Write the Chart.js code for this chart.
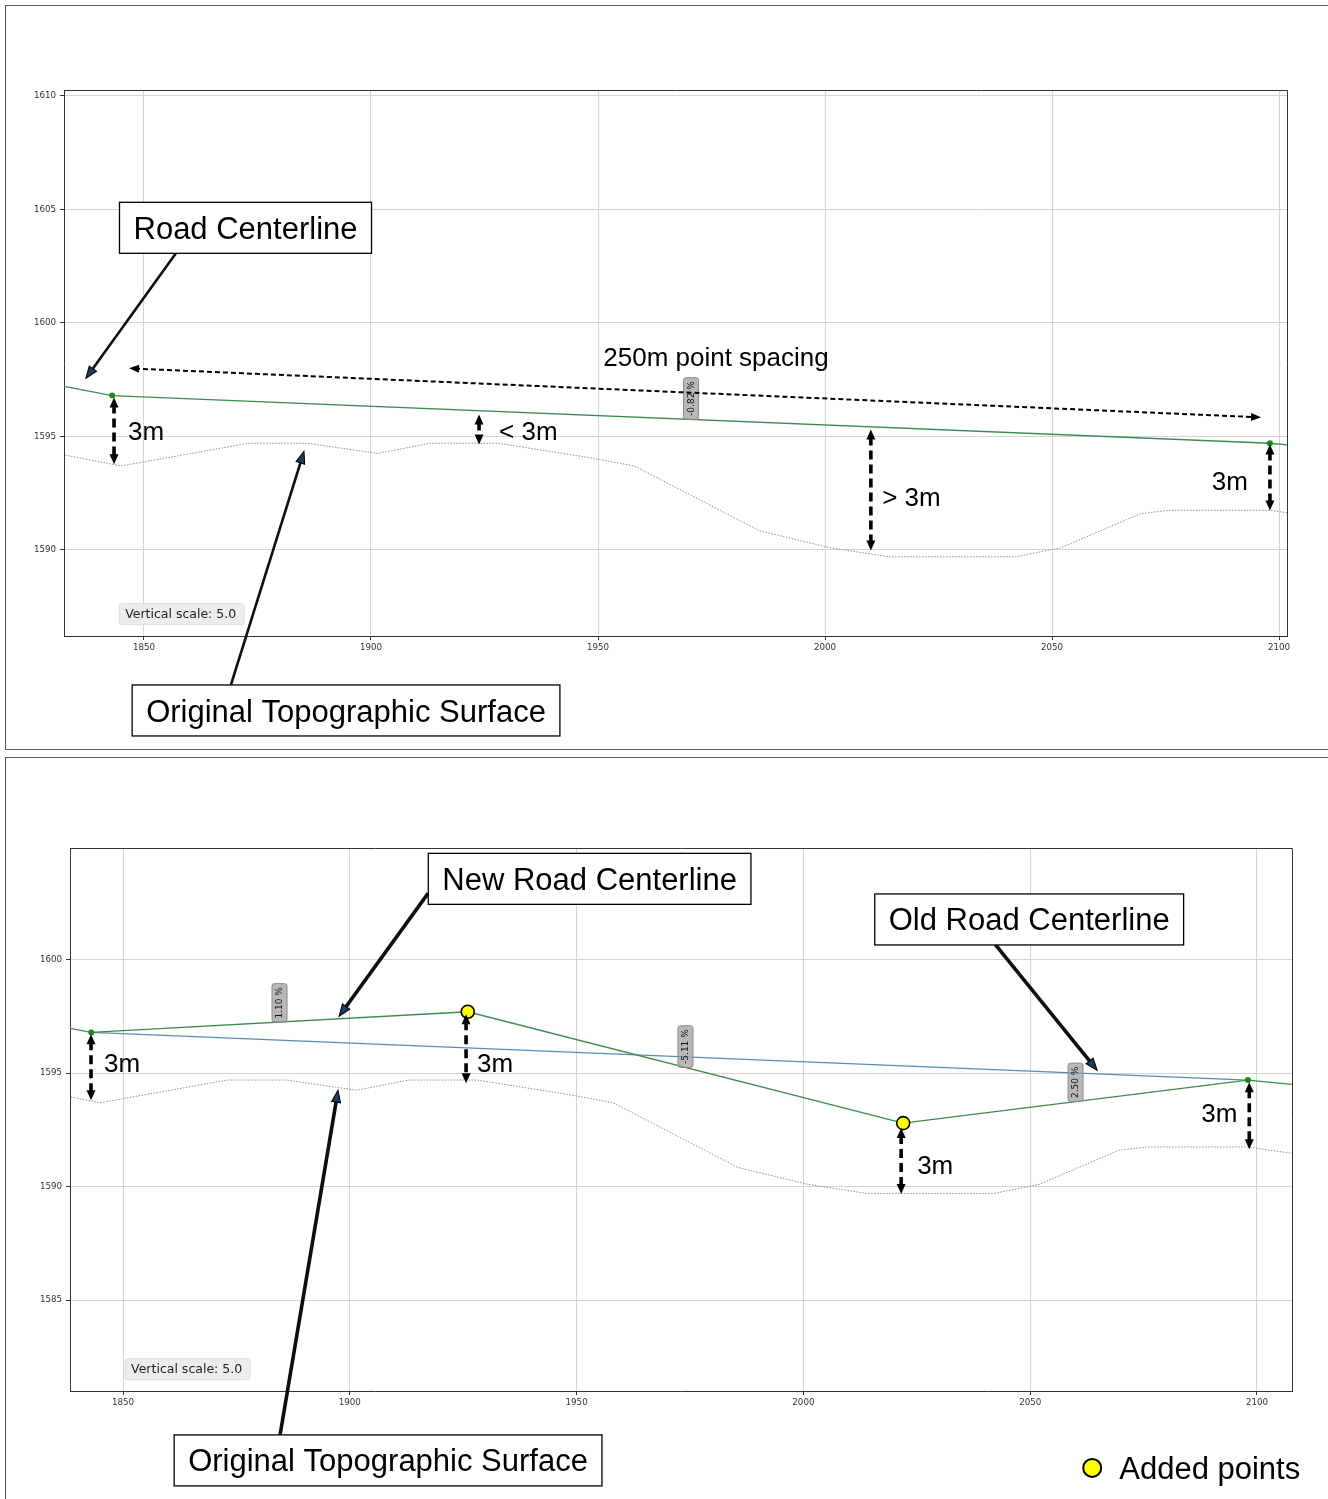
<!DOCTYPE html>
<html>
<head>
<meta charset="utf-8">
<title>Road profile – vertical alignment</title>
<script src="https://cdn.jsdelivr.net/npm/chart.js@4.4.1/dist/chart.umd.min.js"></script>
<style>
  html, body { margin: 0; padding: 0; background: #fff; }
  body { width: 1328px; height: 1499px; position: relative; overflow: hidden; }
  .frame { position: absolute; border: 1px solid #5a5a5a; box-sizing: border-box; }
  #frameTop { left: 5px; top: 5px; width: 1340px; height: 745px; }
  #frameBottom { left: 5px; top: 757px; width: 1340px; height: 760px; }
  canvas { position: absolute; }
  #cTop { left: 5px; top: 5px; }
  #cBottom { left: 5px; top: 757px; }
</style>
</head>
<body>
<div class="frame" id="frameTop"></div>
<div class="frame" id="frameBottom"></div>
<canvas id="cTop" width="1323" height="744" style="width:1323px;height:744px"></canvas>
<canvas id="cBottom" width="1323" height="742" style="width:1323px;height:742px"></canvas>
<script>
// ---- profile data (chainage in m, elevation in m) ----
const xTicks = [1850, 1900, 1950, 2000, 2050, 2100];
const yTicksTop = [1590, 1595, 1600, 1605, 1610];
const yTicksBottom = [1585, 1590, 1595, 1600];

// original ground surface
const topoX = [1820, 1832, 1845, 1873, 1886, 1901.5, 1913, 1928, 1948, 1958, 1972.5, 1985.5, 2001, 2014, 2042, 2052, 2069.5, 2076, 2098, 2110];
const topoY = [1594.6, 1594.2, 1593.7, 1594.7, 1594.7, 1594.25, 1594.7, 1594.7, 1594.07, 1593.7, 1592.2, 1590.85, 1590.1, 1589.7, 1589.7, 1590.1, 1591.6, 1591.75, 1591.75, 1591.4];

// road centerline with 250 m station spacing
const roadX = [1820, 1843, 2098, 2120];
const roadY = [1597.67, 1596.8, 1594.70, 1594.26];

// stations of the original design and the two inserted vertices
const stationX = [1843, 2098];
const addedX = [1926, 2022];

// revised centerline
const newRoadX = [1820, 1843, 1926, 2022, 2098, 2120];
const newRoadY = [1597.67, 1596.8, 1597.71, 1592.80, 1594.70, 1594.26];

// old centerline between the stations
const oldRoadX = [1843, 2098];
const oldRoadY = [1596.8, 1594.70];

const verticalScale = 5.0;

const pts = (xs, ys) => xs.map((x, i) => ({ x: x, y: ys[i] }));

// ---- annotation layout (data coordinates) ----
const topNotes = {
  boxes: [
    { text: 'Road Centerline', x: 1872.36, y: 1604.19 },
    { text: 'Original Topographic Surface', x: 1894.5, y: 1582.93 }
  ],
  pointers: [
    { x1: 1857.0, y1: 1603.06, x2: 1837.2, y2: 1597.56, w: 2.6 },
    { x1: 1869.16, y1: 1584.07, x2: 1885.24, y2: 1594.34, w: 2.6 }
  ],
  spans: [
    { x1: 1846.7, y1: 1598.0, x2: 2096.04, y2: 1595.84, text: '250m point spacing', tx: 1975.99, ty: 1598.52 }
  ],
  gaps: [
    { x: 1843.4, y1: 1596.72, y2: 1593.78, text: '3m', tx: 1846.5, ty: 1595.26 },
    { x: 1923.8, y1: 1595.97, y2: 1594.65, text: '< 3m', tx: 1928.2, ty: 1595.26 },
    { x: 2010.1, y1: 1595.31, y2: 1589.98, text: '> 3m', tx: 2012.6, ty: 1592.36 },
    { x: 2098.0, y1: 1594.65, y2: 1591.74, text: '3m', tx: 2085.2, ty: 1593.06 }
  ],
  legend: null
};

const bottomNotes = {
  boxes: [
    { text: 'New Road Centerline', x: 1952.87, y: 1603.57 },
    { text: 'Old Road Centerline', x: 2049.78, y: 1601.78 },
    { text: 'Original Topographic Surface', x: 1908.43, y: 1577.93 }
  ],
  pointers: [
    { x1: 1917.25, y1: 1602.93, x2: 1897.63, y2: 1597.51, w: 3.6 },
    { x1: 2042.28, y1: 1600.68, x2: 2064.77, y2: 1595.13, w: 3.6 },
    { x1: 1884.62, y1: 1579.05, x2: 1897.41, y2: 1594.25, w: 3.6 }
  ],
  spans: [],
  gaps: [
    { x: 1842.94, y1: 1596.72, y2: 1593.81, text: '3m', tx: 1845.8, ty: 1595.44 },
    { x: 1925.63, y1: 1597.6, y2: 1594.56, text: '3m', tx: 1928.06, ty: 1595.48 },
    { x: 2021.55, y1: 1592.58, y2: 1589.67, text: '3m', tx: 2025.08, ty: 1590.95 },
    { x: 2098.3, y1: 1594.6, y2: 1591.65, text: '3m', tx: 2087.7, ty: 1593.24 }
  ],
  legend: { text: 'Added points', x: 2063.67, y: 1577.6, tx: 2069.63 }
};

// ---- drawing helpers ----
const BOX_FONT = '31px "Liberation Sans", Arial, sans-serif';
const GAP_FONT = '26px "Liberation Sans", Arial, sans-serif';
const TICK_FONT_FAMILY = '"DejaVu Sans", sans-serif';

function arrowHead(ctx, x1, y1, x2, y2, len, wid, fill, stroke) {
  const a = Math.atan2(y2 - y1, x2 - x1);
  ctx.save();
  ctx.translate(x2, y2);
  ctx.rotate(a);
  ctx.setLineDash([]);
  ctx.beginPath();
  ctx.moveTo(0, 0);
  ctx.lineTo(-len, wid / 2);
  ctx.lineTo(-len, -wid / 2);
  ctx.closePath();
  ctx.fillStyle = fill;
  ctx.fill();
  if (stroke) { ctx.lineWidth = 1; ctx.strokeStyle = stroke; ctx.stroke(); }
  ctx.restore();
}

function shaft(ctx, x1, y1, x2, y2, cut1, cut2, width, dash, color) {
  const d = Math.hypot(x2 - x1, y2 - y1);
  const ux = (x2 - x1) / d, uy = (y2 - y1) / d;
  ctx.save();
  ctx.strokeStyle = color;
  ctx.lineWidth = width;
  ctx.setLineDash(dash);
  ctx.beginPath();
  ctx.moveTo(x1 + ux * cut1, y1 + uy * cut1);
  ctx.lineTo(x2 - ux * cut2, y2 - uy * cut2);
  ctx.stroke();
  ctx.restore();
}

function textBox(ctx, text, cx, cy) {
  ctx.save();
  ctx.font = BOX_FONT;
  const w = ctx.measureText(text).width + 28;
  const h = 51;
  ctx.fillStyle = '#fff';
  ctx.fillRect(cx - w / 2, cy - h / 2, w, h);
  ctx.strokeStyle = '#000';
  ctx.lineWidth = 1.3;
  ctx.strokeRect(cx - w / 2, cy - h / 2, w, h);
  ctx.fillStyle = '#000';
  ctx.textAlign = 'center';
  ctx.textBaseline = 'middle';
  ctx.fillText(text, cx, cy + 2.5);
  ctx.restore();
}

function roundRect(ctx, x, y, w, h, r) {
  ctx.beginPath();
  ctx.moveTo(x + r, y);
  ctx.lineTo(x + w - r, y);
  ctx.quadraticCurveTo(x + w, y, x + w, y + r);
  ctx.lineTo(x + w, y + h - r);
  ctx.quadraticCurveTo(x + w, y + h, x + w - r, y + h);
  ctx.lineTo(x + r, y + h);
  ctx.quadraticCurveTo(x, y + h, x, y + h - r);
  ctx.lineTo(x, y + r);
  ctx.quadraticCurveTo(x, y, x + r, y);
  ctx.closePath();
}

// grade labels, rotated, set on the midpoint of each segment
function gradeLabels(ctx, chart, xs, ys) {
  const sx = chart.scales.x, sy = chart.scales.y;
  for (let i = 0; i < xs.length - 1; i++) {
    if (xs[i] < stationX[0] || xs[i + 1] > stationX[stationX.length - 1]) continue;
    const g = (ys[i + 1] - ys[i]) / (xs[i + 1] - xs[i]) * 100;
    const label = g.toFixed(2) + ' %';
    const mx = (xs[i] + xs[i + 1]) / 2, my = (ys[i] + ys[i + 1]) / 2;
    const px = sx.getPixelForValue(mx), py = sy.getPixelForValue(my);
    ctx.save();
    ctx.translate(px, py);
    ctx.rotate(-Math.PI / 2);
    ctx.font = '9px ' + TICK_FONT_FAMILY;
    const tw = ctx.measureText(label).width;
    roundRect(ctx, 0, -7.5, tw + 7, 15, 2.5);
    ctx.fillStyle = 'rgba(160,160,160,0.75)';
    ctx.fill();
    ctx.strokeStyle = '#8a8a8a';
    ctx.lineWidth = 1;
    ctx.stroke();
    ctx.fillStyle = '#111';
    ctx.textBaseline = 'middle';
    ctx.textAlign = 'left';
    ctx.fillText(label, 3.5, 0.5);
    ctx.restore();
  }
}

function makeOverlay(notes, gradeXs, gradeYs) {
  return {
    id: 'profileOverlay',
    afterDraw(chart) {
      const ctx = chart.ctx;
      const a = chart.chartArea;
      const sx = chart.scales.x, sy = chart.scales.y;
      const X = v => sx.getPixelForValue(v), Y = v => sy.getPixelForValue(v);

      // top and right spines
      ctx.save();
      ctx.strokeStyle = '#333';
      ctx.lineWidth = 1;
      ctx.beginPath();
      ctx.moveTo(a.left, a.top + 0.5);
      ctx.lineTo(a.right + 0.5, a.top + 0.5);
      ctx.lineTo(a.right + 0.5, a.bottom);
      ctx.stroke();
      ctx.restore();

      gradeLabels(ctx, chart, gradeXs, gradeYs);

      // vertical exaggeration note
      ctx.save();
      ctx.font = '12.5px ' + TICK_FONT_FAMILY;
      const vs = 'Vertical scale: ' + verticalScale.toFixed(1);
      const tw = ctx.measureText(vs).width;
      const tx = a.left + 0.05 * (a.right - a.left);
      const ty = a.bottom - 0.04 * (a.bottom - a.top);
      roundRect(ctx, tx - 6, ty - 10.5, tw + 14, 21, 3);
      ctx.fillStyle = '#ededed';
      ctx.fill();
      ctx.strokeStyle = '#dddddd';
      ctx.lineWidth = 1;
      ctx.stroke();
      ctx.fillStyle = '#222';
      ctx.textBaseline = 'middle';
      ctx.fillText(vs, tx, ty + 0.5);
      ctx.restore();

      // dashed span arrows with label
      notes.spans.forEach(s => {
        const x1 = X(s.x1), y1 = Y(s.y1), x2 = X(s.x2), y2 = Y(s.y2);
        shaft(ctx, x1, y1, x2, y2, 6, 6, 2, [5, 3], '#000');
        arrowHead(ctx, x2, y2, x1, y1, 10, 8, '#000');
        arrowHead(ctx, x1, y1, x2, y2, 10, 8, '#000');
        ctx.save();
        ctx.font = GAP_FONT;
        ctx.fillStyle = '#000';
        ctx.textAlign = 'center';
        ctx.textBaseline = 'middle';
        ctx.fillText(s.text, X(s.tx), Y(s.ty) + 2);
        ctx.restore();
      });

      // clearance arrows between centerline and ground
      notes.gaps.forEach(g => {
        const x = X(g.x), y1 = Y(g.y1), y2 = Y(g.y2);
        shaft(ctx, x, y1, x, y2, 7, 7, 3.6, [9, 5], '#000');
        arrowHead(ctx, x, y2, x, y1, 10, 9, '#000');
        arrowHead(ctx, x, y1, x, y2, 10, 9, '#000');
        ctx.save();
        ctx.font = GAP_FONT;
        ctx.fillStyle = '#000';
        ctx.textAlign = 'left';
        ctx.textBaseline = 'middle';
        ctx.fillText(g.text, X(g.tx), Y(g.ty) + 2);
        ctx.restore();
      });

      // callout pointers and boxes
      notes.pointers.forEach(p => {
        const x1 = X(p.x1), y1 = Y(p.y1), x2 = X(p.x2), y2 = Y(p.y2);
        shaft(ctx, x1, y1, x2, y2, 0, 9, p.w, [], '#0a0f14');
        arrowHead(ctx, x1, y1, x2, y2, 12, 9, '#1f3b5b', '#000');
      });
      notes.boxes.forEach(b => textBox(ctx, b.text, X(b.x), Y(b.y)));

      if (notes.legend) {
        const L = notes.legend;
        ctx.save();
        ctx.beginPath();
        ctx.arc(X(L.x), Y(L.y), 9, 0, Math.PI * 2);
        ctx.fillStyle = '#ffff00';
        ctx.fill();
        ctx.lineWidth = 2;
        ctx.strokeStyle = '#000';
        ctx.stroke();
        ctx.font = BOX_FONT;
        ctx.fillStyle = '#000';
        ctx.textBaseline = 'middle';
        ctx.fillText(L.text, X(L.tx), Y(L.y) + 2.5);
        ctx.restore();
      }
    }
  };
}

function axes(cfg) {
  return {
    x: {
      type: 'linear',
      min: cfg.xMin, max: cfg.xMax,
      afterBuildTicks: s => { s.ticks = xTicks.map(v => ({ value: v })); },
      afterFit: s => { s.height = 22; },
      grid: { color: '#d4d4d4', lineWidth: 1, drawTicks: true, tickLength: 4, tickColor: '#333' },
      border: { display: true, color: '#333', width: 1 },
      ticks: { font: { family: TICK_FONT_FAMILY, size: 8.7 }, color: '#333', padding: 3, maxRotation: 0, autoSkip: false, callback: v => String(v) }
    },
    y: {
      type: 'linear',
      min: cfg.yMin, max: cfg.yMax,
      afterBuildTicks: s => { s.ticks = cfg.yTicks.map(v => ({ value: v })); },
      afterFit: s => { s.width = cfg.yWidth; },
      grid: { color: '#d4d4d4', lineWidth: 1, drawTicks: true, tickLength: 4, tickColor: '#333' },
      border: { display: true, color: '#333', width: 1 },
      ticks: { font: { family: TICK_FONT_FAMILY, size: 8.7 }, color: '#333', padding: 4, autoSkip: false, callback: v => String(v) }
    }
  };
}

const isStation = x => stationX.includes(x);
const isAdded = x => addedX.includes(x);

const greenLine = '#3b8b4e';
const stationGreen = '#1a8a1a';

// ---- upper panel: existing centerline ----
new Chart(document.getElementById('cTop'), {
  type: 'scatter',
  data: {
    datasets: [
      {
        label: 'Road Centerline',
        data: pts(roadX, roadY),
        showLine: true,
        borderColor: greenLine,
        borderWidth: 1.3,
        pointRadius: c => isStation(c.raw.x) ? 3 : 0,
        pointBackgroundColor: stationGreen,
        pointBorderWidth: 0
      },
      {
        label: 'Original Topographic Surface',
        data: pts(topoX, topoY),
        showLine: true,
        borderColor: '#8e8e8e',
        borderWidth: 1,
        borderDash: [1.5, 1.5],
        pointRadius: 0
      }
    ]
  },
  options: {
    responsive: false,
    animation: false,
    layout: { padding: { left: 0, top: 85, right: 41, bottom: 91 } },
    plugins: { legend: { display: false }, tooltip: { enabled: false } },
    scales: axes({ xMin: 1832.38, xMax: 2101.76, yMin: 1586.21, yMax: 1610.26, yTicks: yTicksTop, yWidth: 59 })
  },
  plugins: [makeOverlay(topNotes, roadX, roadY)]
});

// ---- lower panel: revised centerline with added vertices ----
new Chart(document.getElementById('cBottom'), {
  type: 'scatter',
  data: {
    datasets: [
      {
        label: 'New Road Centerline',
        data: pts(newRoadX, newRoadY),
        showLine: true,
        borderColor: greenLine,
        borderWidth: 1.3,
        pointRadius: c => isAdded(c.raw.x) ? 6.5 : (isStation(c.raw.x) ? 3 : 0),
        pointBackgroundColor: c => isAdded(c.raw.x) ? '#ffff00' : stationGreen,
        pointBorderColor: '#000',
        pointBorderWidth: c => isAdded(c.raw.x) ? 1.6 : 0
      },
      {
        label: 'Old Road Centerline',
        data: pts(oldRoadX, oldRoadY),
        showLine: true,
        borderColor: '#5a8db5',
        borderWidth: 1.3,
        pointRadius: 0
      },
      {
        label: 'Original Topographic Surface',
        data: pts(topoX, topoY),
        showLine: true,
        borderColor: '#8e8e8e',
        borderWidth: 1,
        borderDash: [1.5, 1.5],
        pointRadius: 0
      }
    ]
  },
  options: {
    responsive: false,
    animation: false,
    layout: { padding: { left: 0, top: 91, right: 36, bottom: 86 } },
    plugins: { legend: { display: false }, tooltip: { enabled: false } },
    scales: axes({ xMin: 1838.31, xMax: 2107.72, yMin: 1580.99, yMax: 1604.93, yTicks: yTicksBottom, yWidth: 65 })
  },
  plugins: [makeOverlay(bottomNotes, newRoadX, newRoadY)]
});
</script>
</body>
</html>
